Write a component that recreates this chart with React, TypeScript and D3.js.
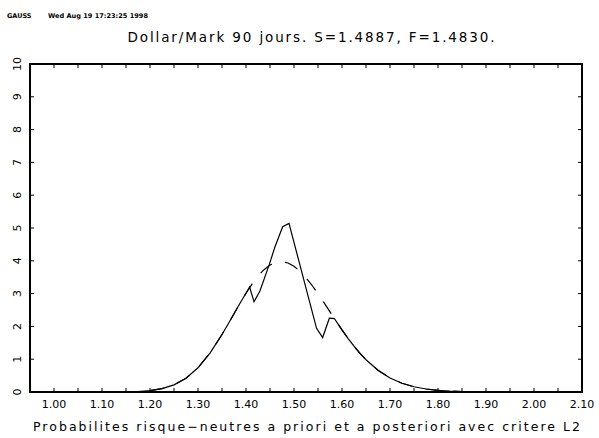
import React from "react";
import * as d3 from "d3";

// ---- data ----
const priorX = [0.95, 1.0, 1.05, 1.1, 1.125, 1.15, 1.175, 1.2, 1.225, 1.25, 1.275, 1.3, 1.325, 1.35, 1.3625, 1.375, 1.3875, 1.4, 1.4125, 1.425, 1.4375, 1.45, 1.4625, 1.475, 1.4875, 1.5, 1.5125, 1.525, 1.5375, 1.55, 1.5625, 1.575, 1.5875, 1.6, 1.6125, 1.625, 1.6375, 1.65, 1.675, 1.7, 1.725, 1.75, 1.775, 1.8, 1.825, 1.85, 1.875, 1.9, 1.95, 2.0, 2.05, 2.1];
const priorY = [0, 0, 0, 0.0004, 0.0016, 0.005, 0.016, 0.043, 0.101, 0.217, 0.42, 0.738, 1.187, 1.752, 2.065, 2.387, 2.706, 3.011, 3.291, 3.534, 3.73, 3.871, 3.953, 3.974, 3.932, 3.833, 3.681, 3.485, 3.254, 2.996, 2.723, 2.442, 2.162, 1.892, 1.635, 1.396, 1.178, 0.983, 0.663, 0.429, 0.266, 0.159, 0.092, 0.051, 0.0275, 0.0144, 0.0073, 0.0036, 0.0008, 0.0002, 0, 0];

const postX = [0.95, 1.0, 1.05, 1.1, 1.125, 1.15, 1.175, 1.2, 1.225, 1.25, 1.275, 1.3, 1.325, 1.35, 1.3625, 1.375, 1.3875, 1.4, 1.4075, 1.4167, 1.429, 1.4486, 1.4604, 1.4764, 1.4896, 1.547, 1.5597, 1.5736, 1.584, 1.6, 1.6125, 1.625, 1.6375, 1.65, 1.675, 1.7, 1.725, 1.75, 1.775, 1.8, 1.825, 1.85, 1.875, 1.9, 1.95, 2.0, 2.05, 2.1];
const postY = [0, 0, 0, 0.0004, 0.0016, 0.005, 0.016, 0.043, 0.101, 0.217, 0.42, 0.738, 1.187, 1.752, 2.065, 2.387, 2.706, 3.011, 3.2, 2.75, 3.08, 3.89, 4.43, 5.04, 5.14, 1.94, 1.66, 2.25, 2.24, 1.892, 1.635, 1.396, 1.178, 0.983, 0.663, 0.429, 0.266, 0.159, 0.092, 0.051, 0.0275, 0.0144, 0.0073, 0.0036, 0.0008, 0.0002, 0, 0];

const xTickLabels = ["1.00", "1.10", "1.20", "1.30", "1.40", "1.50", "1.60", "1.70", "1.80", "1.90", "2.00", "2.10"];
const xMinorTicks = [1.0, 1.05, 1.1, 1.15, 1.2, 1.25, 1.3, 1.35, 1.4, 1.45, 1.5, 1.55, 1.6, 1.65, 1.7, 1.75, 1.8, 1.85, 1.9, 1.95, 2.0, 2.05];
const yTickLabels = ["0", "1", "2", "3", "4", "5", "6", "7", "8", "9", "10"];

const headerLeft = "GAUSS";
const headerDate = "Wed Aug 19 17:23:25 1998";
const title = "Dollar/Mark 90 jours. S=1.4887, F=1.4830.";
const xTitle = "Probabilites risque\u2212neutres a priori et a posteriori avec critere L2";
const dashAnchorX = 1.4306; // where a dash of the prior curve begins

// ---- layout ----
const W = 599, H = 438;
const L = 30, R = 582, T = 64, B = 392;
const FONT = "'DejaVu Sans', sans-serif";

export default function App() {
  const x = d3.scaleLinear().domain([0.95, 2.1]).range([L, R]);
  const y = d3.scaleLinear().domain([0, 10]).range([B, T]);
  const line = d3.line<[number, number]>().x(d => x(d[0])).y(d => y(d[1]));

  const priorPts: [number, number][] = priorX.map((v, i) => [v, priorY[i]]);
  const postPts: [number, number][] = postX.map((v, i) => [v, postY[i]]);

  // dash phase so a dash starts at dashAnchorX
  const dash = 14.5, gap = 13.5, period = dash + gap;
  let acc = 0, anchorLen = 0;
  const ax = x(dashAnchorX);
  for (let i = 1; i < priorPts.length; i++) {
    const x0 = x(priorPts[i - 1][0]), y0 = y(priorPts[i - 1][1]);
    const x1 = x(priorPts[i][0]), y1 = y(priorPts[i][1]);
    const seg = Math.hypot(x1 - x0, y1 - y0);
    if (ax <= x1) {
      const t = (ax - x0) / (x1 - x0);
      anchorLen = acc + seg * t;
      break;
    }
    acc += seg;
  }
  const dashOffset = period - (anchorLen % period);

  return (
    <div style={{ position: "absolute", left: 0, top: 0 }}>
      <svg width={W} height={H} style={{ display: "block", background: "#fff" }}>
        <rect x={0} y={0} width={W} height={H} fill="#fff" />
        <text x={7} y={17.5} fontFamily={FONT} fontSize={6.5} fontWeight="bold" textLength={24.5} lengthAdjust="spacingAndGlyphs">{headerLeft}</text>
        <text x={48} y={17.5} fontFamily={FONT} fontSize={6.5} fontWeight="bold" textLength={100} lengthAdjust="spacingAndGlyphs">{headerDate}</text>
        <text x={127.5} y={42} fontFamily={FONT} fontSize={13.5} textLength={367} lengthAdjust="spacing" fill="#000">{title}</text>

        {/* curves */}
        <path d={line(priorPts) || ""} fill="none" stroke="#000" strokeWidth={1.2} strokeDasharray={`${dash} ${gap}`} strokeDashoffset={dashOffset} />
        <path d={line(postPts) || ""} fill="none" stroke="#000" strokeWidth={1.2} />

        {/* ticks */}
        {xMinorTicks.map((v, i) => (
          <g key={"xt" + i}>
            <line x1={x(v)} x2={x(v)} y1={B} y2={B - 4} stroke="#000" strokeWidth={1} />
            <line x1={x(v)} x2={x(v)} y1={T} y2={T + 4} stroke="#000" strokeWidth={1} />
          </g>
        ))}
        {yTickLabels.map((s, i) => (i > 0 && i < 10 ? (
          <g key={"yt" + i}>
            <line x1={L} x2={L + 4} y1={y(+s)} y2={y(+s)} stroke="#000" strokeWidth={1} />
            <line x1={R} x2={R - 4} y1={y(+s)} y2={y(+s)} stroke="#000" strokeWidth={1} />
          </g>
        ) : null))}

        {/* frame */}
        <rect x={L} y={T} width={R - L} height={B - T} fill="none" stroke="#000" strokeWidth={2} />

        {/* tick labels */}
        {xTickLabels.map((s, i) => (
          <text key={"xl" + i} x={x(+s)} y={408} textAnchor="middle" fontFamily={FONT} fontSize={11} fill="#000">{s}</text>
        ))}
        {yTickLabels.map((s, i) => (
          <text key={"yl" + i} transform={`translate(17,${y(+s)}) rotate(-90)`} textAnchor="middle" dominantBaseline="central" fontFamily={FONT} fontSize={11} fill="#000">{s}</text>
        ))}

        <text x={33} y={431} fontFamily={FONT} fontSize={12.5} textLength={547} lengthAdjust="spacing" fill="#000">{xTitle}</text>
      </svg>
    </div>
  );
}
